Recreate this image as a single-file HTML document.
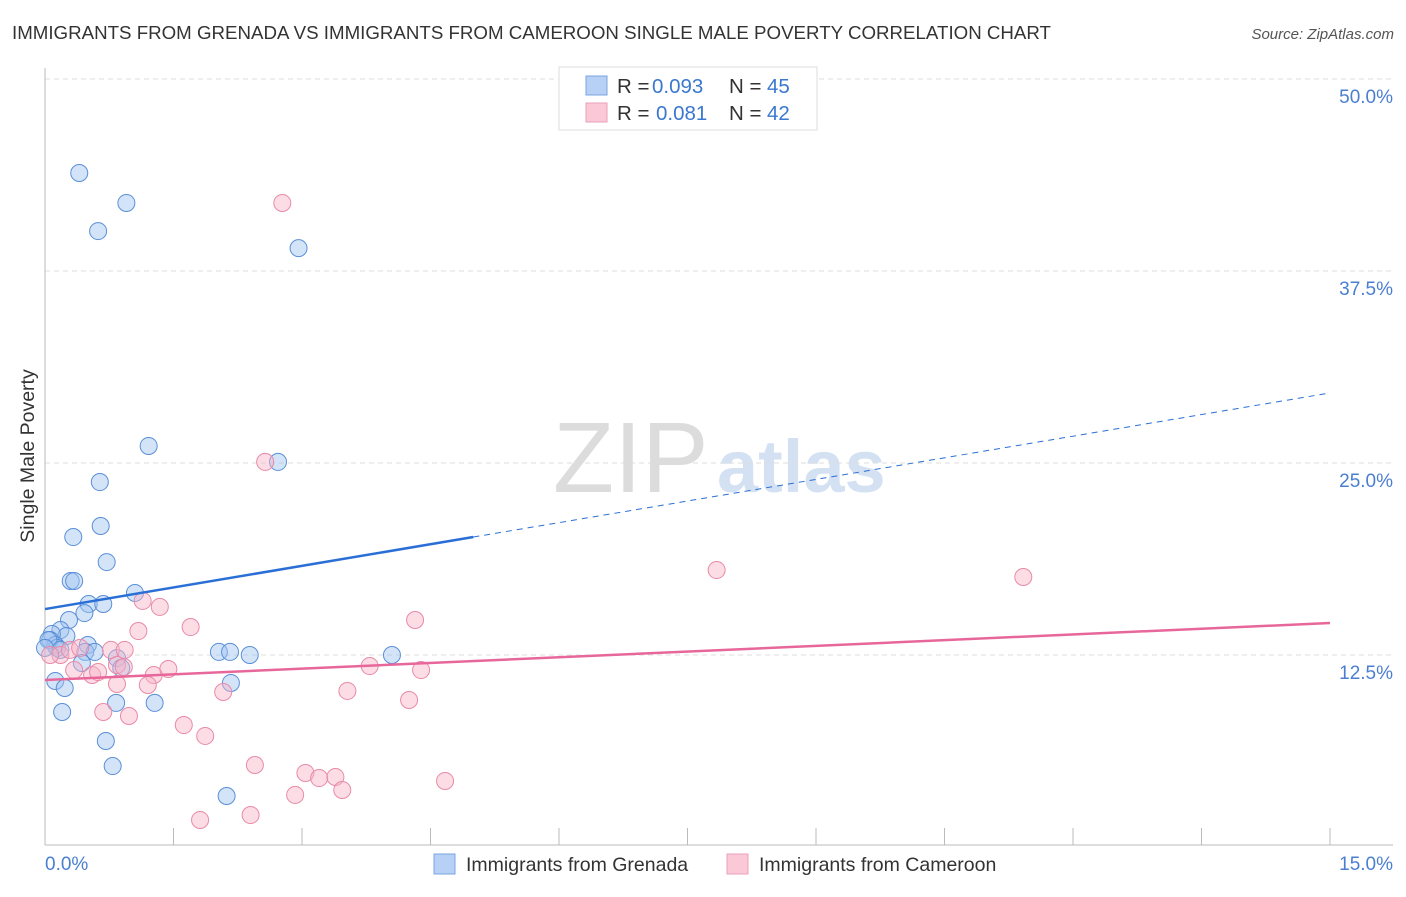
<!DOCTYPE html>
<html><head><meta charset="utf-8"><style>
body{margin:0;background:#fff;font-family:"Liberation Sans",sans-serif}
svg text{font-family:"Liberation Sans",sans-serif}
</style></head><body>
<svg id="chart" width="1406" height="892">
<text x="12" y="39" font-size="18" fill="#333" textLength="1039" lengthAdjust="spacingAndGlyphs">IMMIGRANTS FROM GRENADA VS IMMIGRANTS FROM CAMEROON SINGLE MALE POVERTY CORRELATION CHART</text>
<text x="1394" y="39" font-size="15" fill="#555" font-style="italic" text-anchor="end">Source: ZipAtlas.com</text>
<g>
<text x="553" y="492" font-size="100" font-family="Liberation Serif" fill="#dcdcdc">ZIP</text>
<text x="717" y="492" font-size="74" fill="#d3e1f3" font-weight="bold">atlas</text>
</g>
<g id="grid"></g>
<line x1="45" y1="68" x2="45" y2="845" stroke="#bbb"/>
<line x1="45" y1="845" x2="1393" y2="845" stroke="#bbb"/>
<g id="xticks"></g>
<text transform="translate(34,456) rotate(-90)" font-size="19.5" fill="#333" text-anchor="middle">Single Male Poverty</text>
<text x="45" y="870" font-size="19" fill="#4a7fd0">0.0%</text>
<text x="1393" y="870" font-size="19" fill="#4a7fd0" text-anchor="end">15.0%</text>
<g id="pts"></g>
<g id="trend"></g>
<g>
<rect x="559" y="67" width="258" height="63" fill="#fff" stroke="#ddd"/>
<rect x="586" y="76" width="21" height="19" fill="#b7d0f5" stroke="#7aa5e0"/>
<rect x="586" y="103" width="21" height="19" fill="#fac8d6" stroke="#eaa0b8"/>
<text x="617" y="93" font-size="20.5" fill="#333">R = <tspan x="652" fill="#3a78d0">0.093</tspan><tspan x="729">N = </tspan><tspan x="767" fill="#3a78d0">45</tspan></text>
<text x="617" y="120" font-size="20.5" fill="#333">R = <tspan x="656" fill="#3a78d0">0.081</tspan><tspan x="729">N = </tspan><tspan x="767" fill="#3a78d0">42</tspan></text>
</g>
<g>
<rect x="434" y="854" width="21" height="20" fill="#b7d0f5" stroke="#7aa5e0"/>
<text x="466" y="871" font-size="19.5" fill="#333">Immigrants from Grenada</text>
<rect x="727" y="854" width="21" height="20" fill="#fac8d6" stroke="#eaa0b8"/>
<text x="759" y="871" font-size="19.5" fill="#333">Immigrants from Cameroon</text>
</g>
</svg>
<script>
const yTicks=[12.5,25,37.5,50];
const yTickLabels=["12.5%","25.0%","37.5%","50.0%"];
const grenadaX=[0.40,0.95,0.62,2.96,1.21,2.72,0.64,0.65,0.33,0.72,0.30,0.34,1.05,0.51,0.68,0.46,0.28,0.18,0.25,0.08,0.06,0.12,0.50,0.14,0.47,0.58,0.43,0.84,0.89,2.03,2.16,2.39,4.05,0.12,0.23,2.17,0.83,1.28,0.20,0.71,0.79,2.12,0.04,0.00,0.18];
const grenadaY=[43.88,41.93,40.10,38.99,26.11,25.07,23.76,20.90,20.18,18.55,17.32,17.32,16.54,15.82,15.82,15.23,14.78,14.13,13.74,13.87,13.48,13.15,13.15,12.96,12.70,12.70,11.98,12.30,11.65,12.70,12.70,12.50,12.50,10.81,10.35,10.68,9.38,9.38,8.79,6.90,5.27,3.32,13.48,12.96,12.83];
const cameroonX=[2.77,2.57,7.84,11.42,1.14,1.34,1.09,1.70,4.32,0.77,0.93,0.18,0.06,0.29,0.41,0.84,0.92,0.34,0.55,0.62,1.27,1.44,3.79,4.39,0.84,1.20,2.08,3.53,4.25,0.68,0.98,1.62,1.87,2.45,3.04,3.20,3.39,3.47,4.67,2.92,1.81,2.40];
const cameroonY=[41.93,25.07,18.03,17.58,16.02,15.63,14.06,14.32,14.78,12.83,12.83,12.50,12.50,12.83,12.96,11.85,11.72,11.52,11.20,11.39,11.20,11.59,11.78,11.52,10.61,10.55,10.09,10.16,9.57,8.79,8.53,7.94,7.23,5.34,4.82,4.49,4.56,3.71,4.30,3.39,1.76,2.08];
const grenadaTrend=[15.49,29.56];
const cameroonTrend=[10.87,14.58];
const grenadaSolidEnd=5.0;

const NS="http://www.w3.org/2000/svg";
const sx=v=>45+v/15*1285;
const sy=v=>847-v/12.5*192;
function mk(tag,attrs,parent){const e=document.createElementNS(NS,tag);for(const k in attrs)e.setAttribute(k,attrs[k]);parent.appendChild(e);return e;}
const grid=document.getElementById('grid');
yTicks.forEach((t,i)=>{
  mk('line',{x1:45,x2:1393,y1:sy(t),y2:sy(t),stroke:'#ddd','stroke-dasharray':'5,4'},grid);
  const tx=mk('text',{x:1393,y:sy(t)+24,'font-size':19,fill:'#4a7fd0','text-anchor':'end'},grid);
  tx.textContent=yTickLabels[i];
  
  
});
const xt=document.getElementById('xticks');
for(let i=1;i<=10;i++){mk('line',{x1:sx(i*1.5),x2:sx(i*1.5),y1:828,y2:845,stroke:'#bbb'},xt);}
const pts=document.getElementById('pts');
grenadaX.forEach((x,i)=>{
  const c=mk('circle',{cx:sx(x),cy:sy(grenadaY[i]),r:8.5,fill:'rgba(160,196,240,0.45)',stroke:'#5a8fd8','stroke-width':1},pts);
  
  
});
cameroonX.forEach((x,i)=>{
  const c=mk('circle',{cx:sx(x),cy:sy(cameroonY[i]),r:8.5,fill:'rgba(248,180,200,0.45)',stroke:'#e88aa8','stroke-width':1},pts);
  
  
});
const tr=document.getElementById('trend');
const gy=x=>grenadaTrend[0]+(grenadaTrend[1]-grenadaTrend[0])*x/15;
let l1=mk('line',{x1:sx(0),y1:sy(gy(0)),x2:sx(grenadaSolidEnd),y2:sy(gy(grenadaSolidEnd)),stroke:'#2a6fd6','stroke-width':2.5},tr);


let l2=mk('line',{x1:sx(grenadaSolidEnd),y1:sy(gy(grenadaSolidEnd)),x2:sx(15),y2:sy(gy(15)),stroke:'#2a6fd6','stroke-width':1,'stroke-dasharray':'6,5'},tr);


let l3=mk('line',{x1:sx(0),y1:sy(cameroonTrend[0]),x2:sx(15),y2:sy(cameroonTrend[1]),stroke:'#e8679a','stroke-width':2.5},tr);


</script>
</body></html>
